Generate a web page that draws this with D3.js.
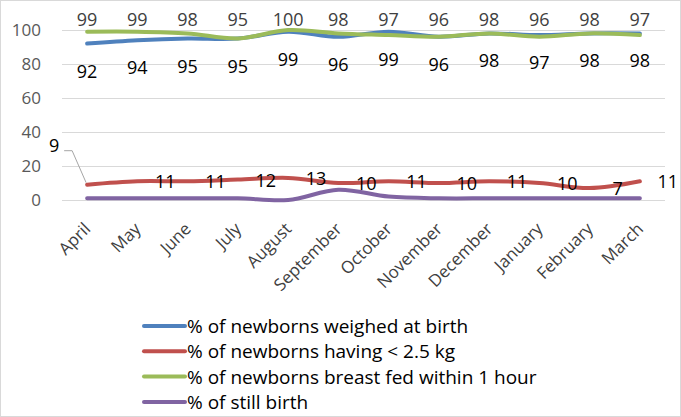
<!DOCTYPE html>
<html>
<head>
<meta charset="utf-8">
<style>
  body { margin: 0; background: #fff; }
  svg { display: block; font-family: "Open Sans", "Liberation Sans", sans-serif; }
</style>
</head>
<body>
<svg width="681" height="417"></svg>
<script src="https://cdn.jsdelivr.net/npm/d3@7/dist/d3.min.js"></script>
<script>
var months = ["April", "May", "June", "July", "August", "September", "October",
              "November", "December", "January", "February", "March"];
var weighed = [92, 94, 95, 95, 99, 96, 99, 96, 98, 97, 98, 98];
var lowWeight = [9, 11, 11, 12, 13, 10, 11, 10, 11, 10, 7, 11];
var breastFed = [99, 99, 98, 95, 100, 98, 97, 96, 98, 96, 98, 97];
var stillBirth = [1, 1, 1, 1, 0, 6, 2, 1, 1, 1, 1, 1];
var yTicks = [0, 20, 40, 60, 80, 100];

var series = [
  { name: "% of newborns weighed at birth", values: weighed, color: "#4F81BD" },
  { name: "% of newborns having < 2.5 kg", values: lowWeight, color: "#C0504D" },
  { name: "% of newborns breast fed within 1 hour", values: breastFed, color: "#9BBB59" },
  { name: "% of still birth", values: stillBirth, color: "#8064A2" }
];

var svg = d3.select("svg");
var plotLeft = 62, plotRight = 665, plotTop = 30, plotBottom = 200;
var labelFont = "Open Sans, Liberation Sans, sans-serif";

svg.append("rect")
  .attr("x", 0.5).attr("y", 0.5).attr("width", 680).attr("height", 416)
  .attr("fill", "#fff").attr("stroke", "#d9d9d9");

var x = d3.scalePoint().domain(months).range([plotLeft, plotRight]).padding(0.5);
var y = d3.scaleLinear().domain([0, 100]).range([plotBottom, plotTop]);

// gridlines
svg.append("g").selectAll("line").data(yTicks).enter().append("line")
  .attr("x1", plotLeft).attr("x2", plotRight)
  .attr("y1", function(d) { return y(d) + 0.5; })
  .attr("y2", function(d) { return y(d) + 0.5; })
  .attr("stroke", "#d9d9d9").attr("stroke-width", 1);

// y axis labels
var yAxis = svg.append("g").attr("transform", "translate(" + (plotLeft - 18) + ",0)")
  .call(d3.axisLeft(y).tickValues(yTicks).tickSize(0));
yAxis.select(".domain").remove();
yAxis.selectAll("text").attr("font-size", 17).attr("fill", "#595959")
  .attr("font-family", labelFont);

// x axis labels, rotated
var xAxis = svg.append("g").attr("transform", "translate(0," + (plotBottom + 10) + ")")
  .call(d3.axisBottom(x).tickSize(0));
xAxis.select(".domain").remove();
xAxis.selectAll("text")
  .attr("font-size", 17).attr("fill", "#404040")
  .attr("font-family", labelFont)
  .attr("text-anchor", "end")
  .attr("x", 0).attr("y", 0).attr("dy", 0)
  .attr("transform", "translate(4,20) rotate(-45)");

var line = d3.line()
  .x(function(d, i) { return x(months[i]); })
  .y(function(d) { return y(d); })
  .curve(d3.curveCatmullRom.alpha(0.5));

series.forEach(function(s) {
  svg.append("path").datum(s.values)
    .attr("d", line).attr("fill", "none")
    .attr("stroke", s.color).attr("stroke-width", 4)
    .attr("stroke-linecap", "round").attr("stroke-linejoin", "round");
});

// weighed labels, below
svg.append("g").selectAll("text").data(weighed).enter().append("text")
  .attr("x", function(d, i) { return x(months[i]); })
  .attr("y", function(d) { return y(d) + 34; })
  .attr("text-anchor", "middle").attr("font-size", 18)
  .attr("font-family", labelFont).attr("fill", "#000")
  .text(function(d) { return d; });

// breast fed labels, above
svg.append("g").selectAll("text").data(breastFed).enter().append("text")
  .attr("x", function(d, i) { return x(months[i]); })
  .attr("y", y(100) - 4)
  .attr("text-anchor", "middle").attr("font-size", 18)
  .attr("font-family", labelFont).attr("fill", "#404040")
  .text(function(d) { return d; });

// low weight labels, right
svg.append("g").selectAll("text").data(lowWeight).enter().append("text")
  .attr("x", function(d, i) { return i === 0 ? x(months[0]) - 33 : x(months[i]) + 28; })
  .attr("y", function(d, i) { return i === 0 ? y(28) : y(d) + 7; })
  .attr("text-anchor", "middle").attr("font-size", 18)
  .attr("font-family", labelFont).attr("fill", "#000")
  .text(function(d) { return d; });

// leader line for April
svg.append("polyline")
  .attr("points", [[x(months[0]) - 23, y(29)], [x(months[0]) - 15, y(29)], [x(months[0]) - 1, y(lowWeight[0]) - 2]].join(" "))
  .attr("fill", "none").attr("stroke", "#a6a6a6").attr("stroke-width", 1);

// legend
var legend = svg.append("g").selectAll("g").data(series).enter().append("g")
  .attr("transform", function(d, i) { return "translate(144," + (326 + i * 25.3) + ")"; });
legend.append("line")
  .attr("x1", 0).attr("x2", 41).attr("y1", 0).attr("y2", 0)
  .attr("stroke", function(d) { return d.color; }).attr("stroke-width", 4)
  .attr("stroke-linecap", "round");
legend.append("text")
  .attr("x", 43).attr("y", 7).attr("font-size", 19)
  .attr("font-family", labelFont).attr("fill", "#000")
  .text(function(d) { return d.name; });
</script>
</body>
</html>
